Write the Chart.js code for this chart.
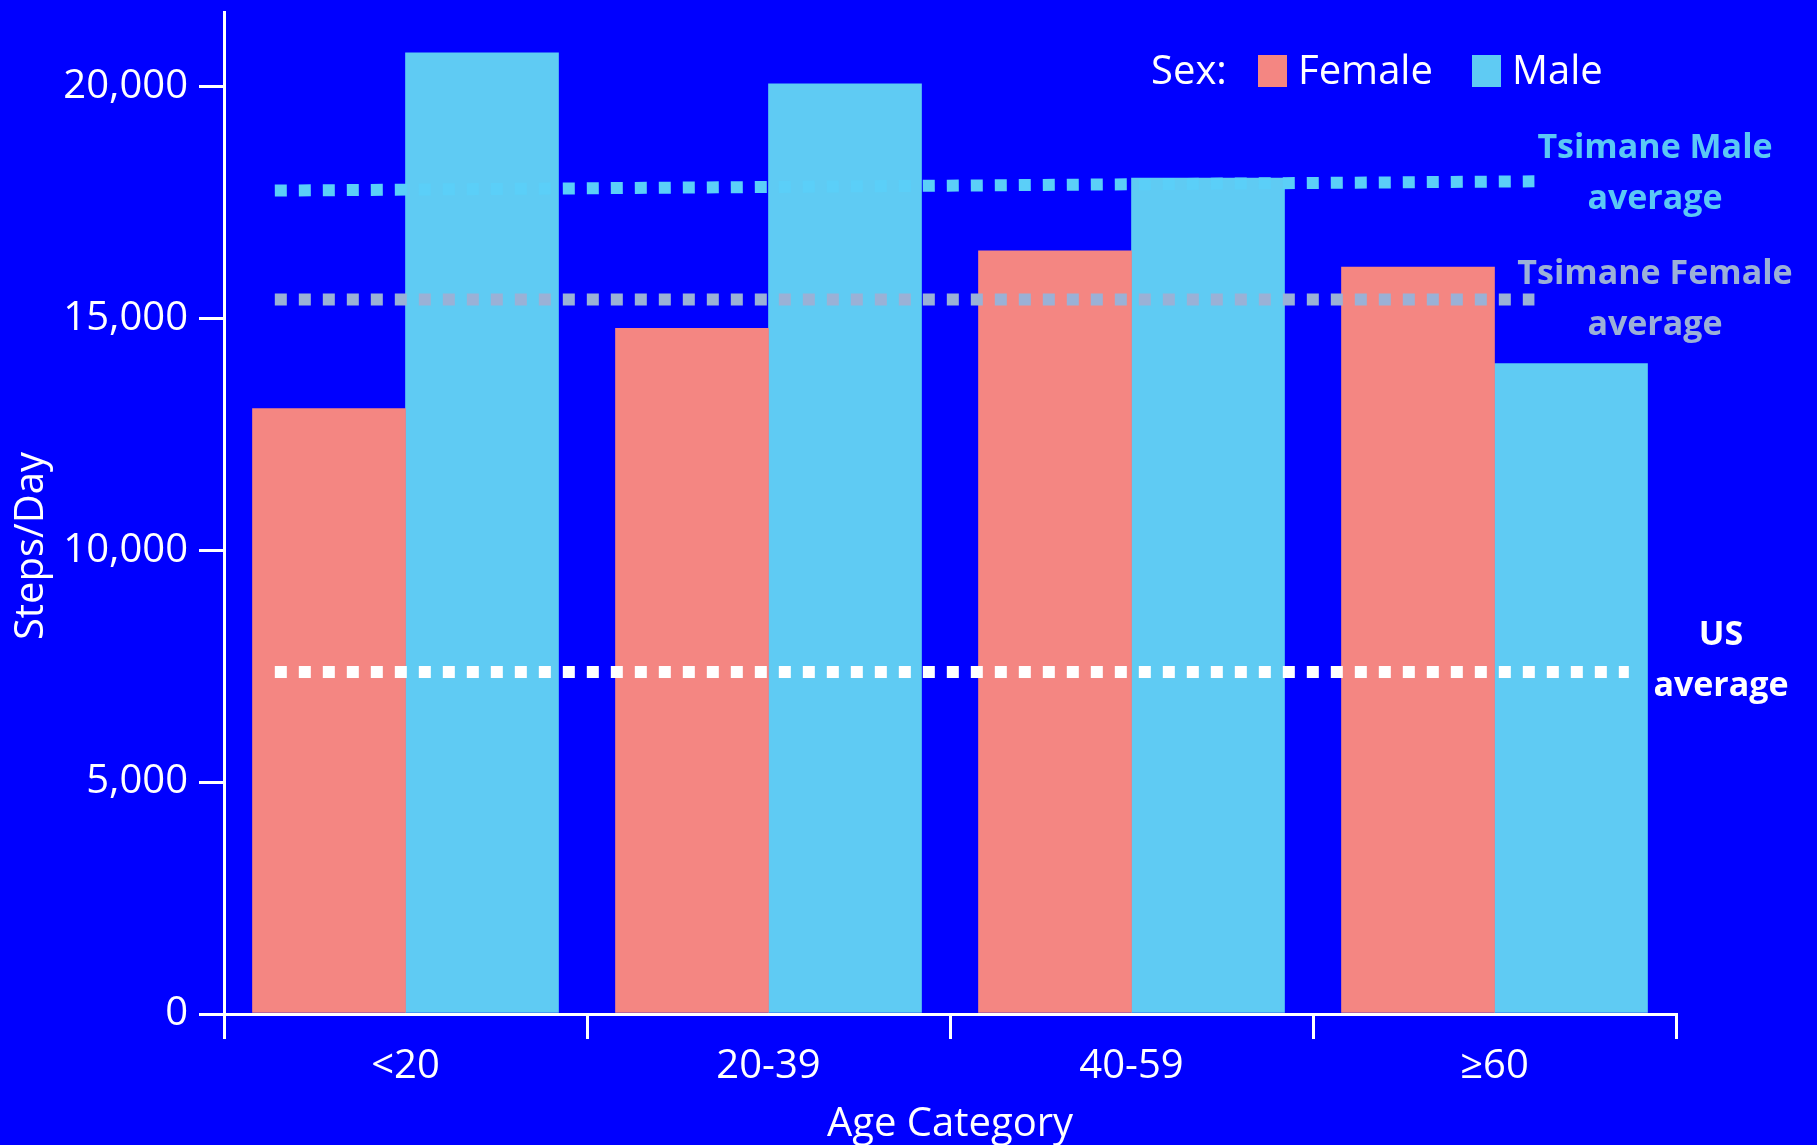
<!DOCTYPE html>
<html>
<head>
<meta charset="utf-8">
<script src="https://cdn.jsdelivr.net/npm/chart.js@4.4.0/dist/chart.umd.min.js"></script>
<style>
  html, body { margin: 0; padding: 0; background: #0000ff; overflow: hidden; }
</style>
</head>
<body>
<canvas id="stepsChart" width="1817" height="1170"></canvas>
<script>
// data
const ageGroups = ['<20', '20-39', '40-59', '\u226560'];
const femaleSteps = [13050, 14780, 16450, 16100];
const maleSteps = [20720, 20050, 18020, 14020];
const yTicks = [0, 5000, 10000, 15000, 20000];
const yMax = 21600;

// reference lines: start/end along the age axis (0 = left edge, 4 = right edge)
const maleAvgSpan = [0.14, 3.61];
const maleAvgSteps = [17750, 17950];
const femaleAvgSpan = [0.14, 3.61];
const femaleAvgSteps = [15400, 15400];
const usAvgSpan = [0.14, 3.87];
const usAvgSteps = [7375, 7375];

const FONT = 'Open Sans';
const femaleColor = '#f48682';
const maleColor = '#5fcbf3';

function refLine(label, span, steps, color) {
    return {
        type: 'line',
        label: label,
        xAxisID: 'xl',
        data: span.map((x, i) => ({ x: x, y: steps[i] })),
        borderColor: color,
        borderWidth: 12,
        borderDash: [12, 12],
        pointRadius: 0,
        fill: false,
        order: 0
    };
}

// legend "Sex: [] Female [] Male" in the top right
const sexLegend = {
    id: 'sexLegend',
    afterDraw(chart) {
        const ctx = chart.ctx;
        ctx.save();
        ctx.font = '40px "' + FONT + '"';
        ctx.fillStyle = '#fff';
        ctx.textBaseline = 'middle';
        ctx.fillText('Sex:', 1151, 73);
        const bars = chart.data.datasets.filter(d => d.type === 'bar');
        const boxX = [1258, 1472];
        bars.forEach((d, i) => {
            ctx.fillStyle = d.backgroundColor;
            ctx.fillRect(boxX[i], 55, 29, 32);
            ctx.fillStyle = '#fff';
            ctx.fillText(d.label, boxX[i] + 40, 73);
        });
        ctx.restore();
    }
};

// line labels on the right and the y title
const sideText = {
    id: 'sideText',
    afterDraw(chart) {
        const ctx = chart.ctx;
        const right = chart.chartArea.right;
        ctx.save();
        ctx.textAlign = 'center';
        ctx.textBaseline = 'middle';
        ctx.font = 'bold 34px "' + FONT + '"';
        ctx.fillStyle = '#5bc8f5';
        ctx.fillText('Tsimane Male', right - 21, 148);
        ctx.fillText('average', right - 21, 199);
        ctx.fillStyle = '#9bb0d8';
        ctx.fillText('Tsimane Female', right - 21, 274);
        ctx.fillText('average', right - 21, 325);
        ctx.fillStyle = '#fff';
        ctx.fillText('US', right + 45, 635);
        ctx.fillText('average', right + 45, 686);

        ctx.font = '40px "' + FONT + '"';
        ctx.translate(32, 546);
        ctx.rotate(-Math.PI / 2);
        ctx.fillText('Steps/Day', 0, 0);
        ctx.restore();
    }
};

const ctx = document.getElementById('stepsChart').getContext('2d');
const chart = new Chart(ctx, {
    type: 'bar',
    data: {
        labels: ageGroups,
        datasets: [
            refLine('Tsimane Male average', maleAvgSpan, maleAvgSteps, '#5bcff8'),
            refLine('Tsimane Female average', femaleAvgSpan, femaleAvgSteps, '#9ab1d6'),
            refLine('US average', usAvgSpan, usAvgSteps, '#ffffff'),
            {
                type: 'bar',
                label: 'Female',
                data: femaleSteps,
                backgroundColor: femaleColor,
                borderWidth: 0,
                barThickness: 153,
                order: 1
            },
            {
                type: 'bar',
                label: 'Male',
                data: maleSteps,
                backgroundColor: maleColor,
                borderWidth: 0,
                barThickness: 153,
                order: 1
            }
        ]
    },
    options: {
        responsive: false,
        animation: false,
        devicePixelRatio: 1,
        layout: { padding: { top: 12, right: 141, left: 0, bottom: 0 } },
        plugins: {
            legend: { display: false },
            tooltip: { enabled: false }
        },
        scales: {
            x: {
                type: 'category',
                offset: true,
                grid: {
                    offset: true,
                    drawOnChartArea: false,
                    color: '#fff',
                    lineWidth: 3,
                    tickLength: 25
                },
                border: { color: '#fff', width: 3 },
                ticks: {
                    color: '#fff',
                    font: { family: FONT, size: 40 },
                    padding: 4
                },
                title: {
                    display: true,
                    text: 'Age Category',
                    color: '#fff',
                    font: { family: FONT, size: 40 },
                    padding: { top: 0, bottom: 21 }
                },
                afterFit(scale) {
                    scale.height = 1170 - 1014;
                    scale.paddingLeft = 0;
                    scale.paddingRight = 0;
                }
            },
            xl: {
                type: 'linear',
                min: 0,
                max: 4,
                offset: false,
                display: false,
                grid: { offset: false }
            },
            y: {
                min: 0,
                max: yMax,
                afterBuildTicks(scale) {
                    scale.ticks = yTicks.map(v => ({ value: v }));
                },
                grid: {
                    drawOnChartArea: false,
                    color: '#fff',
                    lineWidth: 3,
                    tickLength: 25
                },
                border: { color: '#fff', width: 3 },
                ticks: {
                    color: '#fff',
                    font: { family: FONT, size: 40 },
                    padding: 11,
                    callback: v => v.toLocaleString('en-US')
                },
                afterFit(scale) {
                    scale.width = 224;
                    scale.paddingTop = 0;
                    scale.paddingBottom = 0;
                }
            }
        }
    },
    plugins: [sexLegend, sideText]
});
</script>
</body>
</html>
